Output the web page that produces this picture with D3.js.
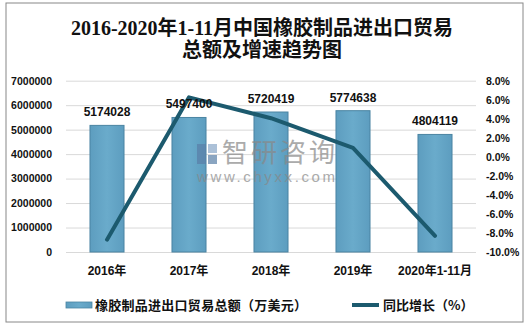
<!DOCTYPE html>
<html><head><meta charset="utf-8">
<script src="https://cdn.jsdelivr.net/npm/d3@7/dist/d3.min.js"></script>
<style>body{margin:0;background:#fff}svg{display:block}</style>
</head><body>
<svg id="c" width="528" height="328"></svg>
<script>
const categories = ["2016年","2017年","2018年","2019年","2020年1-11月"];
const totals = [5174028,5497400,5720419,5774638,4804119];
const growth = [-8.7,6.25,4.06,0.95,-8.3];
const leftTicks = [0,1000000,2000000,3000000,4000000,5000000,6000000,7000000];
const rightTicks = [-10,-8,-6,-4,-2,0,2,4,6,8];
const titleLines = ["2016-2020年1-11月中国橡胶制品进出口贸易","总额及增速趋势图"];
const legendLabels = ["橡胶制品进出口贸易总额（万美元）","同比增长（%）"];

const svg = d3.select("#c");
const sans = "'Liberation Sans', Arial, 'Noto Sans CJK SC', sans-serif";
svg.append("rect").attr("x",6).attr("y",3).attr("width",517).attr("height",319)
  .attr("fill","#fff").attr("stroke","#888").attr("stroke-width",1);

const title = svg.append("text").attr("text-anchor","middle")
  .attr("font-family","'Liberation Serif','Noto Sans CJK SC',serif").attr("font-weight","bold")
  .attr("font-size",20).attr("fill","#111");
titleLines.forEach((t,i)=>title.append("tspan").attr("x",262).attr("y",35+i*22).text(t));

const x = d3.scaleBand().domain(categories).range([66,476]).paddingInner(0.585).paddingOuter(0.2925);
const yL = d3.scaleLinear().domain([0,7000000]).range([252,80.7]);
const yR = d3.scaleLinear().domain([-10,8]).range([252,80.7]);

// gridlines
svg.append("g").selectAll("line").data(leftTicks).join("line")
  .attr("x1",66).attr("x2",476).attr("y1",d=>yL(d)+0.5).attr("y2",d=>yL(d)+0.5)
  .attr("stroke","#d9d9d9").attr("stroke-width",1);

// left axis
const gl = svg.append("g").attr("transform","translate(66,0)")
  .call(d3.axisLeft(yL).tickValues(leftTicks).tickSize(0).tickPadding(14).tickFormat(d3.format("d")));
gl.select(".domain").remove();
gl.selectAll("text").attr("font-family",sans).attr("font-weight","bold").attr("font-size",10.5).attr("fill","#111");

// right axis
const gr = svg.append("g").attr("transform","translate(476,0)")
  .call(d3.axisRight(yR).tickValues(rightTicks).tickSize(0).tickPadding(10).tickFormat(d=>d.toFixed(1)+"%"));
gr.select(".domain").remove();
gr.selectAll("text").attr("font-family",sans).attr("font-weight","bold").attr("font-size",10.5).attr("fill","#111");

// bottom axis
const gb = svg.append("g").attr("transform","translate(0,252)")
  .call(d3.axisBottom(x).tickSize(0).tickPadding(14));
gb.select(".domain").remove();
gb.selectAll("text").attr("font-family",sans).attr("font-weight","bold").attr("font-size",12).attr("fill","#111");

// bars
const defs = svg.append("defs");
const grad = defs.append("linearGradient").attr("id","bg").attr("x1","0").attr("x2","1").attr("y1","0").attr("y2","0");
grad.append("stop").attr("offset","0").attr("stop-color","#5d9dbf");
grad.append("stop").attr("offset","0.5").attr("stop-color","#6aabcb");
grad.append("stop").attr("offset","1").attr("stop-color","#5d9dbf");

svg.append("g").selectAll("rect").data(totals).join("rect")
  .attr("x",(d,i)=>x(categories[i])).attr("width",x.bandwidth())
  .attr("y",d=>yL(d)).attr("height",d=>yL(0)-yL(d))
  .attr("fill","url(#bg)").attr("stroke","#4a84a2").attr("stroke-width",1);

// watermark
const wm = svg.append("g").attr("opacity",0.7);
wm.append("rect").attr("x",197).attr("y",144).attr("width",9).attr("height",20).attr("fill","#5a7fa8");
wm.append("rect").attr("x",208).attr("y",144).attr("width",9).attr("height",9).attr("fill","#8aa8c8");
wm.append("rect").attr("x",208).attr("y",155).attr("width",9).attr("height",9).attr("fill","#5a7fa8");
wm.append("text").attr("x",222).attr("y",162).attr("font-family","'Noto Sans CJK SC',sans-serif")
  .attr("font-size",26).attr("fill","#888").attr("textLength",113).text("智研咨询");
wm.append("text").attr("x",197).attr("y",182).attr("font-family",sans)
  .attr("font-size",15).attr("fill","#888").attr("textLength",138).text("www.chyxx.com");

// line
const line = d3.line().x((d,i)=>x(categories[i])+x.bandwidth()/2).y(d=>yR(d));
svg.append("path").datum(growth).attr("d",line).attr("fill","none")
  .attr("stroke","#1c5a6e").attr("stroke-width",4).attr("stroke-linejoin","round").attr("stroke-linecap","round");

// data labels
svg.append("g").selectAll("text").data(totals).join("text")
  .attr("x",(d,i)=>x(categories[i])+x.bandwidth()/2).attr("y",d=>yL(d)-9)
  .attr("text-anchor","middle").attr("font-family",sans).attr("font-weight","bold")
  .attr("font-size",12).attr("fill","#111").text(d=>d);

// legend
svg.append("rect").attr("x",66).attr("y",302).attr("width",26).attr("height",6)
  .attr("fill","url(#bg)").attr("stroke","#4a84a2").attr("stroke-width",0.8);
svg.append("text").attr("x",95).attr("y",310).attr("font-family","'Noto Sans CJK SC',sans-serif")
  .attr("font-weight","bold").attr("font-size",13).attr("fill","#111").attr("textLength",212).text(legendLabels[0]);
svg.append("line").attr("x1",352).attr("x2",379).attr("y1",305).attr("y2",305)
  .attr("stroke","#1c5a6e").attr("stroke-width",4);
svg.append("text").attr("x",383).attr("y",310).attr("font-family","'Noto Sans CJK SC',sans-serif")
  .attr("font-weight","bold").attr("font-size",13).attr("fill","#111").text(legendLabels[1]);
</script>
</body></html>
